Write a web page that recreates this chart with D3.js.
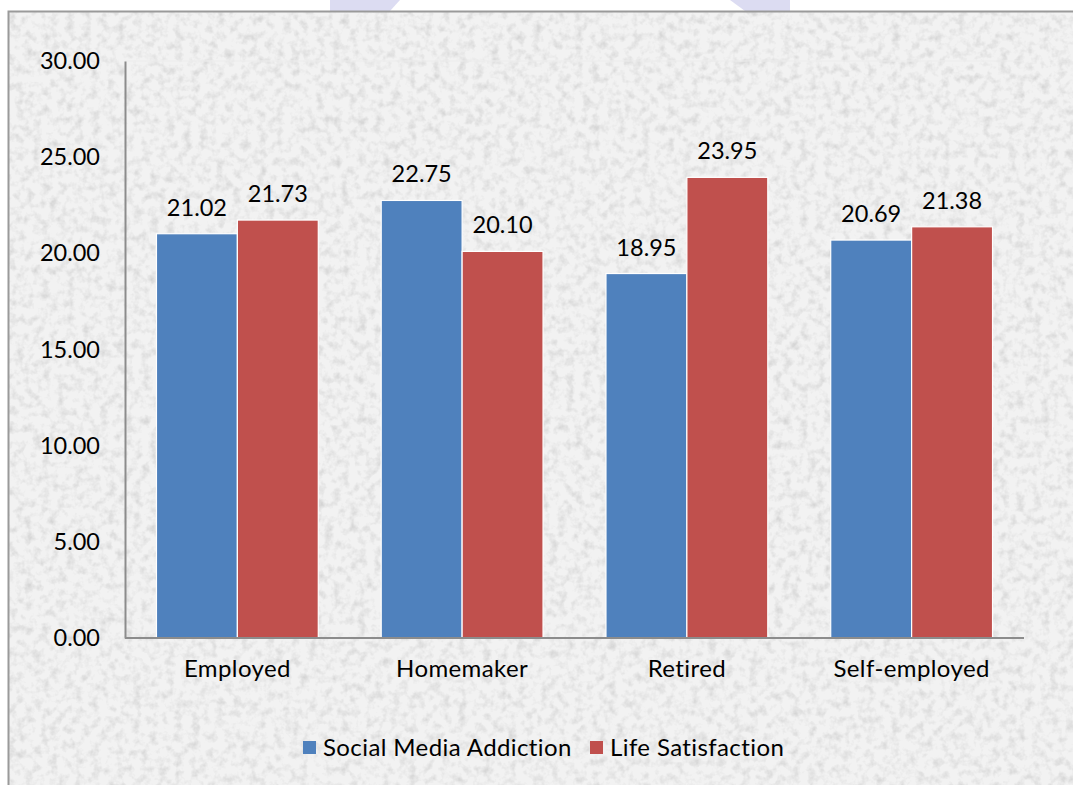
<!DOCTYPE html>
<html><head><meta charset="utf-8">
<script src="https://cdn.jsdelivr.net/npm/d3@7"></script>
<style>body{margin:0;background:#fff;overflow:hidden}svg{display:block}</style>
</head><body>
<script>
const categories = ["Employed", "Homemaker", "Retired", "Self-employed"];
const seriesNames = ["Social Media Addiction", "Life Satisfaction"];
const socialMedia = [21.02, 22.75, 18.95, 20.69];
const lifeSat = [21.73, 20.10, 23.95, 21.38];
const yTicks = [0, 5, 10, 15, 20, 25, 30];
const colors = ["#4f81bd", "#c0504d"];

const W = 1073, H = 785;
const font = "Lato, 'Open Sans', sans-serif";
const fs = 23.5, fsw = 24;
const svg = d3.select("body").append("svg").attr("width", W).attr("height", H);
const defs = svg.append("defs");
const f = defs.append("filter").attr("id","granite").attr("x",0).attr("y",0).attr("width","100%").attr("height","100%");
f.append("feTurbulence").attr("type","fractalNoise").attr("baseFrequency","0.12").attr("numOctaves",3).attr("seed",4).attr("result","n");
f.append("feColorMatrix").attr("in","n").attr("type","matrix")
 .attr("values","0 0 0 0 0  0 0 0 0 0  0 0 0 0 0  0 0 0 -1.3 0.72").attr("result","a");
f.append("feFlood").attr("flood-color","#b4b4b4").attr("result","fl");
f.append("feComposite").attr("in","fl").attr("in2","a").attr("operator","in").attr("result","spots");
f.append("feGaussianBlur").attr("in","spots").attr("stdDeviation",0.6).attr("result","b");
f.append("feMerge").selectAll("feMergeNode").data(["b"]).join("feMergeNode").attr("in",d=>d);

// top banner remnants
svg.append("rect").attr("x",330).attr("y",0).attr("width",460).attr("height",11).attr("fill","#dcdcf2");
svg.append("path").attr("d","M400,0 L730,0 L745,11 L390,11 Z").attr("fill","#fff");

// frame background
svg.append("rect").attr("x",9).attr("y",12).attr("width",W).attr("height",H).attr("fill","#f2f2f2");
svg.append("rect").attr("x",9).attr("y",12).attr("width",W).attr("height",H).attr("fill","#fff").attr("filter","url(#granite)").attr("opacity",0.75);
svg.append("rect").attr("x",8.5).attr("y",11.5).attr("width",W+10).attr("height",H+10)
  .attr("fill","none").attr("stroke","#9a9a9a").attr("stroke-width",2);

const m = {left:125, right:1024, top:61, bottom:638};
const x0 = d3.scaleBand().domain(categories).range([m.left, m.right]).paddingInner(0.28).paddingOuter(0.14);
const x1 = d3.scaleBand().domain(seriesNames).range([0, x0.bandwidth()]);
const y = d3.scaleLinear().domain([0,30]).range([m.bottom, m.top]);

svg.append("line").attr("x1",m.left).attr("x2",m.right).attr("y1",m.top).attr("y2",m.top).attr("stroke","#ececec");

const data = categories.map((c,i)=>({cat:c, vals:[socialMedia[i], lifeSat[i]]}));
const g = svg.append("g").selectAll("g").data(data).join("g").attr("transform",d=>`translate(${x0(d.cat)},0)`);
g.selectAll("rect").data(d=>d.vals.map((v,j)=>({v, s:seriesNames[j], j}))).join("rect")
  .attr("x",d=>x1(d.s)).attr("width",x1.bandwidth())
  .attr("y",d=>y(d.v)).attr("height",d=>y(0)-y(d.v))
  .attr("fill",d=>colors[d.j]).attr("stroke","#fff").attr("stroke-width",1.2);
g.selectAll("text").data(d=>d.vals.map((v,j)=>({v, s:seriesNames[j], j}))).join("text")
  .attr("x",d=>x1(d.s)+x1.bandwidth()/2).attr("y",d=>y(d.v)-18)
  .attr("text-anchor","middle").attr("font-family",font).attr("font-size",fs).attr("fill","#000")
  .text(d=>d.v.toFixed(2));

const yAxis = d3.axisLeft(y).tickValues(yTicks).tickSize(0).tickPadding(25).tickFormat(d=>d.toFixed(2));
const ya = svg.append("g").attr("transform",`translate(${m.left},0)`).call(yAxis);
ya.select(".domain").attr("stroke","#8c8c8c").attr("stroke-width",2);
ya.selectAll("text").attr("font-family",font).attr("font-size",fs).attr("fill","#000");

const xAxis = d3.axisBottom(x0).tickSize(0).tickPadding(22);
const xa = svg.append("g").attr("transform",`translate(0,${m.bottom})`).call(xAxis);
xa.select(".domain").attr("stroke","#8c8c8c").attr("stroke-width",2).attr("d",`M${m.left},0H${m.right}`);
xa.selectAll("text").attr("font-family",font).attr("font-size",fsw).attr("letter-spacing",0.4).attr("fill","#000");

const legX = [303, 590];
const leg = svg.append("g").selectAll("g").data(seriesNames).join("g").attr("transform",(d,i)=>`translate(${legX[i]},741)`);
leg.append("rect").attr("width",13).attr("height",13).attr("fill",(d,i)=>colors[i]);
leg.append("text").attr("x",20).attr("y",15).attr("font-family",font).attr("font-size",fsw).attr("letter-spacing",0.4).attr("fill","#000").text(d=>d);
</script>
</body></html>
